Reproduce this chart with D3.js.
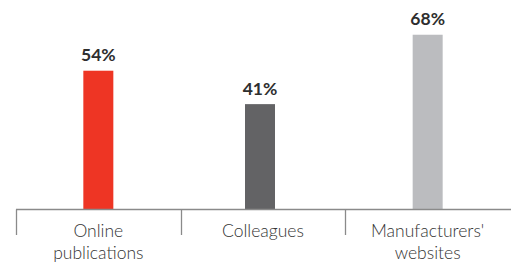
<!DOCTYPE html>
<html>
<head>
<meta charset="utf-8">
<script src="https://cdn.jsdelivr.net/npm/d3@7"></script>
<style>
  html, body { margin: 0; padding: 0; background: #fff; }
  svg { display: block; }
</style>
</head>
<body>
<svg id="chart" width="511" height="267"></svg>
<script>
const categories = ["Online publications", "Colleagues", "Manufacturers' websites"];
const labelLines = [["Online", "publications"], ["Colleagues"], ["Manufacturers'", "websites"]];
const values = [54, 41, 68];
const colors = ["#ee3524", "#636365", "#bbbcbf"];

const svg = d3.select("#chart");
const baseY = 209.5;
const x = d3.scaleBand().domain(categories).range([16, 510]).paddingInner(0).paddingOuter(0);
const y = d3.scaleLinear().domain([0, 100]).range([baseY, baseY - 257]);
const barW = 30;
const offsets = [0, -3, 0];

// bars
svg.selectAll("rect.bar").data(values).join("rect")
  .attr("class", "bar")
  .attr("x", (d, i) => x(categories[i]) + x.bandwidth() / 2 - barW / 2 + offsets[i])
  .attr("y", d => y(d))
  .attr("width", barW)
  .attr("height", d => y(0) - y(d))
  .attr("fill", (d, i) => colors[i]);

// value labels
svg.selectAll("text.val").data(values).join("text")
  .attr("class", "val")
  .attr("x", (d, i) => x(categories[i]) + x.bandwidth() / 2 + offsets[i])
  .attr("y", d => y(d) - 9.5)
  .attr("text-anchor", "middle")
  .attr("font-family", "Lato, 'Open Sans', sans-serif")
  .attr("font-weight", 700)
  .attr("font-size", 17.5)
  .attr("fill", "#2e2e2e")
  .text(d => d + "%");

// axis
const axis = svg.append("g");
axis.append("line")
  .attr("x1", 16).attr("x2", 511).attr("y1", baseY).attr("y2", baseY)
  .attr("stroke", "#8a8a8a").attr("stroke-width", 1.3);
const edges = categories.map(c => x(c));
axis.selectAll("line.tick").data(edges).join("line")
  .attr("class", "tick")
  .attr("x1", d => Math.round(d) + 0.5).attr("x2", d => Math.round(d) + 0.5)
  .attr("y1", baseY).attr("y2", 235)
  .attr("stroke", "#8a8a8a").attr("stroke-width", 1.3);

// category labels
const cl = svg.selectAll("text.cat").data(categories).join("text")
  .attr("class", "cat")
  .attr("text-anchor", "middle")
  .attr("font-family", "Lato, 'Open Sans', sans-serif")
  .attr("font-weight", 300)
  .attr("font-size", 17.5)
  .attr("fill", "#333");
cl.each(function(d, i) {
  const t = d3.select(this);
  labelLines[i].forEach((ln, j) => {
    t.append("tspan")
      .attr("x", x(d) + x.bandwidth() / 2)
      .attr("y", 237 + j * 22)
      .text(ln);
  });
});
</script>
</body>
</html>
